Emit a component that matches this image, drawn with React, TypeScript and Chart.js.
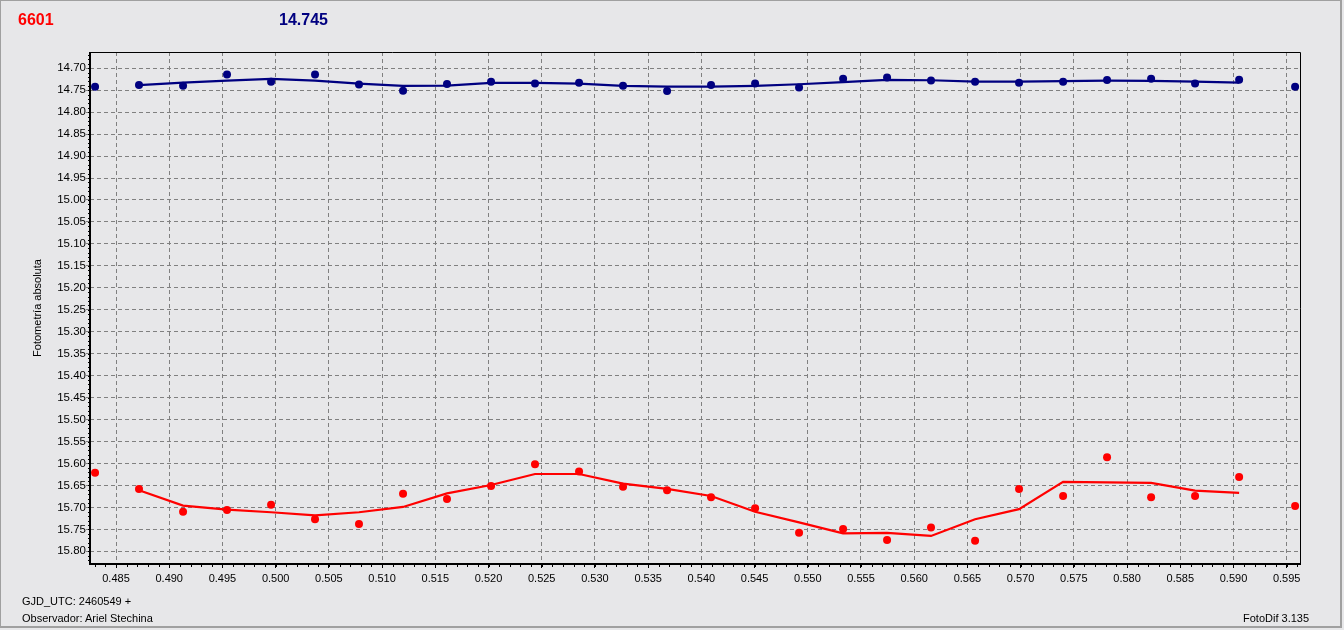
import React, { useEffect, useRef } from "react";
import { Chart, registerables } from "chart.js";

Chart.register(...registerables);

// ---- data ----
const X = [
  0.48303, 0.48716, 0.4913, 0.49543, 0.49957, 0.5037, 0.50783, 0.51197, 0.5161, 0.52024,
  0.52437, 0.52851, 0.53264, 0.53678, 0.54091, 0.54505, 0.54918, 0.55332, 0.55745, 0.56158,
  0.56572, 0.56985, 0.57399, 0.57812, 0.58226, 0.58639, 0.59053, 0.59579,
];

const BLUE_PTS = [
  14.742, 14.738, 14.74, 14.7145, 14.731, 14.7145, 14.737, 14.751, 14.736, 14.731,
  14.735, 14.733, 14.74, 14.752, 14.738, 14.735, 14.744, 14.724, 14.721, 14.728,
  14.731, 14.733, 14.731, 14.727, 14.724, 14.735, 14.726, 14.742,
];

const BLUE_FIT = [
  null, 14.7386, 14.7327, 14.7282, 14.7243, 14.7282, 14.735, 14.7402, 14.7395, 14.7334,
  14.7334, 14.735, 14.7402, 14.7418, 14.7418, 14.7402, 14.7364, 14.7318, 14.7266, 14.7273,
  14.7305, 14.7305, 14.7295, 14.7282, 14.7289, 14.7305, 14.7327, null,
];

const RED_PTS = [
  15.621, 15.658, 15.71, 15.706, 15.694, 15.727, 15.738, 15.669, 15.681, 15.651,
  15.602, 15.618, 15.653, 15.661, 15.677, 15.702, 15.758, 15.749, 15.774, 15.746,
  15.776, 15.658, 15.674, 15.586, 15.677, 15.674, 15.631, 15.697,
];

const RED_FIT = [
  null, 15.661, 15.696, 15.705, 15.711, 15.718, 15.711, 15.699, 15.668, 15.649,
  15.624, 15.624, 15.646, 15.658, 15.674, 15.71, 15.734, 15.759, 15.758, 15.765,
  15.727, 15.704, 15.642, 15.643, 15.644, 15.662, 15.667, null,
];

const X_TICKS = [
  0.485, 0.49, 0.495, 0.5, 0.505, 0.51, 0.515, 0.52, 0.525, 0.53, 0.535, 0.54,
  0.545, 0.55, 0.555, 0.56, 0.565, 0.57, 0.575, 0.58, 0.585, 0.59, 0.595,
];

const Y_TICKS = [
  14.7, 14.75, 14.8, 14.85, 14.9, 14.95, 15.0, 15.05, 15.1, 15.15, 15.2, 15.25,
  15.3, 15.35, 15.4, 15.45, 15.5, 15.55, 15.6, 15.65, 15.7, 15.75, 15.8,
];

const X_MIN = 0.482556;
const X_MAX = 0.59625;
const Y_MIN = 14.663;
const Y_MAX = 15.8289;
const X_MINOR_STEP = 0.001;
const Y_MINOR_STEP = 0.01;

const Y_TITLE = "Fotometría absoluta";
const COMP_LABEL = "6601";
const COMP_MAG = "14.745";
const FOOT_DATE = "GJD_UTC: 2460549 +";
const FOOT_OBS = "Observador: Ariel Stechina";
const FOOT_SOFT = "FotoDif 3.135";

const BG = "#e7e7e9";
const FONT = "'Liberation Sans', Arial, sans-serif";

const toXY = (ys: (number | null)[]) =>
  X.map((x, i) => (ys[i] == null ? null : { x, y: ys[i] as number })).filter(Boolean) as {
    x: number;
    y: number;
  }[];

const framePlugin = {
  id: "frame",
  beforeDraw(chart: any) {
    const { ctx, width, height } = chart;
    ctx.save();
    ctx.fillStyle = BG;
    ctx.fillRect(0, 0, width, height);
    ctx.restore();
  },
  afterDraw(chart: any) {
    const { ctx, chartArea, scales } = chart;
    const { left, top, right, bottom } = chartArea;
    ctx.save();
    ctx.strokeStyle = "#000";
    ctx.lineWidth = 1;
    ctx.beginPath();
    ctx.moveTo(left, top + 0.5);
    ctx.lineTo(right + 0.5, top + 0.5);
    ctx.lineTo(right + 0.5, bottom);
    ctx.stroke();
    ctx.lineWidth = 2;
    ctx.beginPath();
    ctx.moveTo(left, top);
    ctx.lineTo(left, bottom);
    ctx.lineTo(right + 1, bottom);
    ctx.stroke();
    ctx.fillStyle = "#000";
    const ys = scales.y;
    const n = Math.round((Y_MAX - Y_MIN) / Y_MINOR_STEP);
    const y0 = Math.ceil(Y_MIN / Y_MINOR_STEP) * Y_MINOR_STEP;
    for (let i = 0; i <= n; i++) {
      const v = y0 + i * Y_MINOR_STEP;
      if (v > Y_MAX) break;
      const py = Math.round(ys.getPixelForValue(v));
      ctx.fillRect(left - 2, py, 1, 1);
    }
    const xs = scales.x;
    const m = Math.round((X_MAX - X_MIN) / X_MINOR_STEP);
    const x0 = Math.ceil(X_MIN / X_MINOR_STEP) * X_MINOR_STEP;
    for (let i = 0; i <= m; i++) {
      const v = x0 + i * X_MINOR_STEP;
      if (v > X_MAX) break;
      const px = Math.round(xs.getPixelForValue(v));
      ctx.fillRect(px, bottom + 1, 1, 2);
    }
    ctx.restore();
  },
};

export default function App() {
  const ref = useRef<HTMLCanvasElement | null>(null);

  useEffect(() => {
    document.body.style.margin = "0";
    const canvas = ref.current;
    if (!canvas) return;
    const chart = new Chart(canvas, {
      type: "line",
      data: {
        datasets: [
          {
            label: "comp points",
            data: toXY(BLUE_PTS),
            showLine: false,
            pointRadius: 4,
            pointBorderWidth: 0,
            pointBackgroundColor: "#000080",
            pointBorderColor: "#000080",
          },
          {
            label: "var points",
            data: toXY(RED_PTS),
            showLine: false,
            pointRadius: 4,
            pointBorderWidth: 0,
            pointBackgroundColor: "#ff0000",
            pointBorderColor: "#ff0000",
          },
          {
            label: "comp fit",
            data: toXY(BLUE_FIT),
            borderColor: "#000080",
            borderWidth: 2.2,
            pointRadius: 0,
            tension: 0,
            fill: false,
          },
          {
            label: "var fit",
            data: toXY(RED_FIT),
            borderColor: "#ff0000",
            borderWidth: 2.2,
            pointRadius: 0,
            tension: 0,
            fill: false,
          },
        ],
      },
      options: {
        responsive: false,
        animation: false,
        events: [],
        layout: { padding: { top: 52, right: 44, left: 0, bottom: 0 } },
        plugins: { legend: { display: false }, tooltip: { enabled: false }, title: { display: false } },
        scales: {
          x: {
            type: "linear",
            min: X_MIN,
            max: X_MAX,
            afterBuildTicks: (s: any) => {
              s.ticks = X_TICKS.map((v) => ({ value: v }));
            },
            afterFit: (s: any) => {
              s.height = 66;
            },
            ticks: {
              autoSkip: false,
              maxRotation: 0,
              padding: 4,
              color: "#000",
              font: { family: FONT, size: 11 },
              callback: (v: any) => Number(v).toFixed(3),
            },
            grid: {
              color: "#808080",
              lineWidth: 1,
              tickLength: 4,
              tickColor: "#000",
              tickBorderDash: [],
            },
            border: { display: false, dash: [4, 3] },
          },
          y: {
            type: "linear",
            reverse: true,
            min: Y_MIN,
            max: Y_MAX,
            afterBuildTicks: (s: any) => {
              s.ticks = Y_TICKS.map((v) => ({ value: v }));
            },
            afterFit: (s: any) => {
              s.width = 90;
            },
            ticks: {
              autoSkip: false,
              padding: 0,
              color: "#000",
              font: { family: FONT, size: 11.5 },
              callback: (v: any) => Number(v).toFixed(2),
            },
            grid: {
              color: "#808080",
              lineWidth: 1,
              tickLength: 4,
              tickColor: "#808080",
            },
            border: { display: false, dash: [4, 3] },
            title: {
              display: true,
              text: Y_TITLE,
              color: "#000",
              font: { family: FONT, size: 11 },
              padding: { top: 31, bottom: 0 },
            },
          },
        },
      },
      plugins: [framePlugin],
    } as any);
    return () => chart.destroy();
  }, []);

  const txt: React.CSSProperties = {
    position: "absolute",
    fontFamily: FONT,
    whiteSpace: "nowrap",
    margin: 0,
  };

  return (
    <div style={{ position: "relative", width: 1344, height: 630, background: "#f0f0f0", overflow: "hidden" }}>
      <canvas ref={ref} width={1344} height={630} style={{ position: "absolute", left: 0, top: 0, width: 1344, height: 630 }} />
      <div
        style={{
          position: "absolute",
          left: 0,
          top: 0,
          width: 1342,
          height: 628,
          boxSizing: "border-box",
          border: "1px solid #a0a0a0",
          borderRightWidth: 2,
          borderBottomWidth: 2,
          pointerEvents: "none",
        }}
      />
      <div style={{ ...txt, left: 18, top: 11.5, fontSize: 16, lineHeight: "16px", fontWeight: "bold", color: "#ff0000" }}>
        {COMP_LABEL}
      </div>
      <div style={{ ...txt, left: 279, top: 11.5, fontSize: 16, lineHeight: "16px", fontWeight: "bold", color: "#000080" }}>
        {COMP_MAG}
      </div>
      <div style={{ ...txt, left: 22, top: 596, fontSize: 11, lineHeight: "11px", color: "#000" }}>{FOOT_DATE}</div>
      <div style={{ ...txt, left: 22, top: 612.5, fontSize: 11, lineHeight: "11px", color: "#000" }}>{FOOT_OBS}</div>
      <div style={{ ...txt, left: 1243, top: 612.5, fontSize: 11, lineHeight: "11px", color: "#000" }}>{FOOT_SOFT}</div>
    </div>
  );
}
